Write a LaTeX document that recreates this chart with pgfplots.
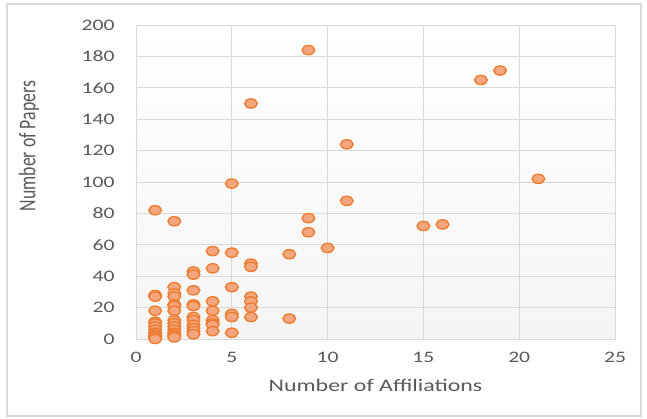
\documentclass[border=0pt]{standalone}
\usepackage{fontspec}
\setmainfont{Carlito}[FakeStretch=1.35]
\newfontfamily\plainfont{Carlito}
\usepackage{pgfplots}
\pgfplotsset{compat=1.18}
\definecolor{accent}{HTML}{ED7D31}
\definecolor{accentfill}{HTML}{F4A77E}
\definecolor{gridc}{HTML}{D9D9D9}
\definecolor{ticktxt}{HTML}{595959}
\begin{document}
\begin{tikzpicture}
\begin{axis}[
  scale only axis, width=479pt, height=314pt,
  xmin=0, xmax=25, ymin=0, ymax=200,
  xtick={0,5,...,25}, ytick={0,20,...,200},
  grid=major, major grid style={gridc, line width=0.8pt},
  axis line style={gridc, line width=0.8pt},
  major tick length=0pt,
  /pgf/number format/assume math mode=true,
  ticklabel style={font=\fontsize{16}{19}\selectfont, text=ticktxt},
  xticklabel style={yshift=-10pt},
  yticklabel style={xshift=-18pt},
  xlabel={Number of Affiliations},
  ylabel={\rotatebox{90}{\scalebox{1}[1.35]{\plainfont Number of Papers}}},
  label style={font=\fontsize{17.7}{21}\selectfont, text=ticktxt},
  x label style={at={(axis description cs:0.5,-0.1465)}, anchor=center},
  every axis y label/.style={at={(axis description cs:-0.2234,0.6146)}, anchor=center,
    font=\fontsize{17.7}{21}\selectfont, text=ticktxt},
  axis background/.style={shade, top color=white, middle color=black!1, bottom color=black!4},
]
\addplot[only marks, mark=*, mark size=4.6pt,
  mark options={xscale=1.38, draw=accent, fill=accentfill, line width=1.4pt}]
  coordinates {
  (1,28) (1,27) (1,18) (1,11) (1,10) (1,8) (1,6) (1,4) (1,3) (1,2) (1,1) (1,0)
  (2,33) (2,29) (2,27) (2,22) (2,21) (2,18) (2,12) (2,10) (2,8) (2,6) (2,4) (2,3) (2,2) (2,1)
  (3,43) (3,41) (3,31) (3,22) (3,21) (3,14) (3,12) (3,9) (3,7) (3,5) (3,3)
  (4,56) (4,45) (4,24) (4,18) (4,12) (4,10) (4,9) (4,5)
  (5,99) (5,55) (5,33) (5,16) (5,14) (5,4)
  (6,150) (6,48) (6,46) (6,27) (6,24) (6,20) (6,14)
  (8,54) (8,13)
  (9,184) (9,77) (9,68)
  (10,58)
  (11,124) (11,88)
  (1,82) (2,75)
  (15,72) (16,73)
  (18,165) (19,171)
  (21,102)
  };
\end{axis}
\draw[gridc, line width=1.2pt] ([shift={(-129pt,-77pt)}]current axis.south west) rectangle ([shift={(505pt,335pt)}]current axis.south west);
\path ([shift={(-136pt,-80pt)}]current axis.south west) rectangle ([shift={(511pt,339pt)}]current axis.south west);
\end{tikzpicture}
\end{document}
